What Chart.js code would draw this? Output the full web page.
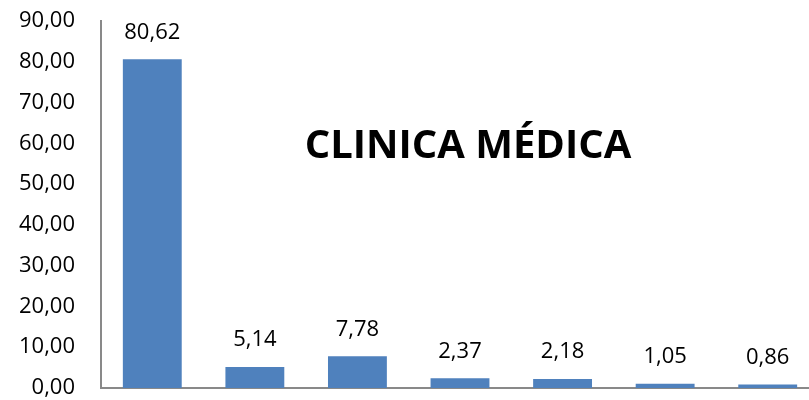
<!DOCTYPE html>
<html>
<head>
<meta charset="utf-8">
<script src="https://cdn.jsdelivr.net/npm/chart.js@4"></script>
<style>
  body { margin: 0; background: #fff; overflow: hidden; }
  #wrap { width: 819px; height: 400px; }
</style>
</head>
<body>
<div id="wrap"><canvas id="chart"></canvas></div>
<script>
const categories = ['1', '2', '3', '4', '5', '6', '7'];
const values = [80.62, 5.14, 7.78, 2.37, 2.18, 1.05, 0.86];
const yTicks = [0, 10, 20, 30, 40, 50, 60, 70, 80, 90];
const chartTitle = 'CLINICA MÉDICA';

const fmt = v => v.toFixed(2).replace('.', ',');

// value labels above the bars + title inside the plot
const labelsPlugin = {
  id: 'labels',
  afterDatasetsDraw(chart) {
    const ctx = chart.ctx;
    const meta = chart.getDatasetMeta(0);
    ctx.save();
    ctx.fillStyle = '#000';
    ctx.font = '22px "Open Sans"';
    ctx.textAlign = 'center';
    ctx.textBaseline = 'middle';
    meta.data.forEach((bar, i) => {
      ctx.fillText(fmt(values[i]), bar.x, bar.y - 27);
    });
    const area = chart.chartArea;
    ctx.font = 'bold 40px "Open Sans"';
    ctx.fillText(chartTitle, area.left + 367, area.top + 126);
    ctx.restore();
  }
};

new Chart(document.getElementById('chart'), {
  type: 'bar',
  data: {
    labels: categories,
    datasets: [{
      data: values,
      backgroundColor: '#4F81BD',
      barPercentage: 0.574,
      categoryPercentage: 1
    }]
  },
  options: {
    responsive: true,
    maintainAspectRatio: false,
    animation: false,
    layout: { padding: { top: 21, right: 0, left: 0, bottom: 0 } },
    plugins: {
      legend: { display: false },
      tooltip: { enabled: false }
    },
    scales: {
      x: {
        grid: { display: false, drawTicks: false },
        border: { display: true, color: '#898989', width: 2 },
        ticks: { display: false },
        afterFit: s => { s.height = 12; }
      },
      y: {
        min: 0,
        max: 90,
        afterBuildTicks: s => { s.ticks = yTicks.map(v => ({ value: v })); },
        grid: { display: false, drawTicks: false },
        border: { display: true, color: '#898989', width: 2 },
        ticks: {
          padding: 26,
          color: '#000',
          font: { family: 'Open Sans', size: 22 },
          callback: v => fmt(v)
        },
        afterFit: s => {
          s.width = 101;
          // don't let the label padding shrink the plot vertically
          s.paddingTop = 0;
          s.paddingBottom = 0;
        }
      }
    }
  },
  plugins: [labelsPlugin]
});
</script>
</body>
</html>
